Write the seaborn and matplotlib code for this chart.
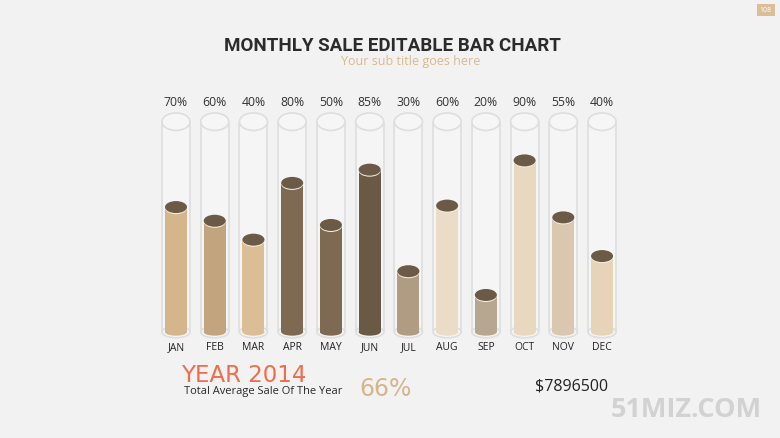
import matplotlib
matplotlib.use("Agg")
import matplotlib.pyplot as plt
import seaborn as sns
from matplotlib.patches import Ellipse, Rectangle

# Datos
months = ["JAN", "FEB", "MAR", "APR", "MAY", "JUN", "JUL", "AUG", "SEP", "OCT", "NOV", "DEC"]
fill_levels = [59.4, 52.9, 43.9, 70.9, 50.9, 77.2, 28.9, 60.1, 17.6, 81.6, 54.5, 36.1]
pct_labels = ["70%", "60%", "40%", "80%", "50%", "85%", "30%", "60%", "20%", "90%", "55%", "40%"]
bar_colors = ["#D5B68C", "#C2A47F", "#DBBE95", "#7E6A52", "#7E6A52", "#6A5A45",
              "#B09C83", "#EADCC6", "#B8A790", "#E8D8C0", "#D9C7AF", "#E7D4B8"]
cap_color = "#6B5A45"

sns.set_theme(style="white")
plt.rcParams["font.family"] = ["Open Sans", "DejaVu Sans"]

fig = plt.figure(figsize=(7.8, 4.39), dpi=100, facecolor="#F2F2F2")
ax = fig.add_axes([0.2008, 0.2415, 0.5959, 0.4790])
ax.set_facecolor("none")

bar_w = 0.568
tube_w = 0.723
px_per_unit = 2.103

sns.barplot(x=months, y=fill_levels, hue=months, palette=bar_colors, legend=False,
            width=bar_w, saturation=1, ax=ax, zorder=3, edgecolor="none", linewidth=0)

ax.set_xlim(-0.5, 11.5)
ax.set_ylim(0, 100)
ax.axis("off")

for i, p in enumerate(ax.patches[:len(months)]):
    cx = p.get_x() + p.get_width() / 2
    h = p.get_height()
    col = p.get_facecolor()
    # tubo transparente
    ax.add_patch(Rectangle((cx - tube_w / 2, 0), tube_w, 100, facecolor="#F5F5F5",
                           edgecolor="none", zorder=1))
    ax.plot([cx - tube_w / 2] * 2, [0, 100], color="#DEDEDE", lw=1.2, zorder=1.5)
    ax.plot([cx + tube_w / 2] * 2, [0, 100], color="#DEDEDE", lw=1.2, zorder=1.5)
    ax.add_patch(Ellipse((cx, 0), tube_w, 5.5, facecolor="#F5F5F5", edgecolor="#DEDEDE",
                         lw=1.2, zorder=1.2, clip_on=False))
    ax.add_patch(Ellipse((cx, 100), tube_w, 17.5 / px_per_unit, facecolor="#F6F6F6",
                         edgecolor="#DEDEDE", lw=1.2, zorder=2, clip_on=False))
    # fondo redondeado y tapa de la barra
    ax.add_patch(Ellipse((cx, 0), p.get_width(), 3.5, facecolor=col, edgecolor="none",
                         lw=0, zorder=3, clip_on=False))
    ax.add_patch(Ellipse((cx, h - 0.5), p.get_width(), 12 / px_per_unit, facecolor="#F4EEE6",
                         edgecolor="none", zorder=3.5))
    ax.add_patch(Ellipse((cx, h), p.get_width(), 12 / px_per_unit, facecolor=cap_color,
                         edgecolor="none", zorder=4))
    ax.text(cx, 109.4, pct_labels[i], ha="center", va="center", fontsize=8.8,
            color="#333333", clip_on=False)
    ax.text(cx, -6.9, months[i], ha="center", va="center", fontsize=7.5,
            color="#222222", clip_on=False)

# Textos
fig.text(392 / 780, 1 - 46 / 439, "MONTHLY SALE EDITABLE BAR CHART", ha="center", va="center",
         fontsize=13.5, color="#2B2B2B", family="Roboto", fontweight="bold")
fig.text(411 / 780, 1 - 62 / 439, "Your sub title goes here", ha="center", va="center",
         fontsize=9, color="#D8BA8E")
fig.text(181 / 780, 1 - 376 / 439, "YEAR 2014", ha="left", va="center",
         fontsize=16.5, color="#F26B4B", family="DejaVu Sans")
fig.text(184 / 780, 1 - 392 / 439, "Total Average Sale Of The Year", ha="left", va="center",
         fontsize=8, color="#2B2B2B")
fig.text(359 / 780, 1 - 389 / 439, "66%", ha="left", va="center",
         fontsize=17, color="#D5B68C", family="DejaVu Sans")
fig.text(535 / 780, 1 - 387 / 439, "$7896500", ha="left", va="center",
         fontsize=11.5, color="#222222")
fig.text(686 / 780, 1 - 410 / 439, "51MIZ.COM", ha="center", va="center",
         fontsize=19.5, fontweight="bold", color="#D2D2D2")
fig.text(766 / 780, 1 - 11 / 439, "108", ha="center", va="center", fontsize=5, color="white",
         bbox=dict(boxstyle="square,pad=0.35", facecolor="#D9BE97", edgecolor="none"))

fig.savefig("out.png", dpi=100, facecolor=fig.get_facecolor())
